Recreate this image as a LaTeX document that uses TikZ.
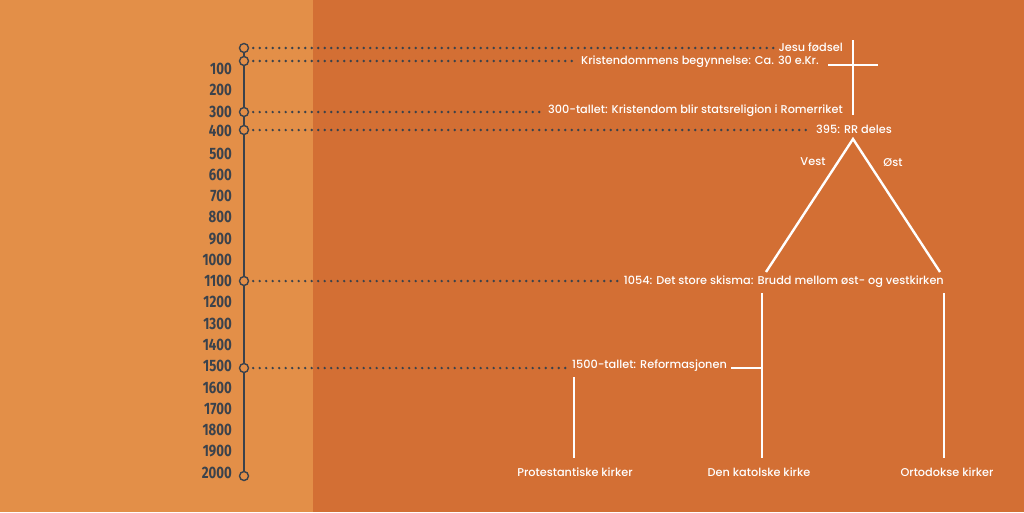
\documentclass[tikz,border=0pt]{standalone}
\usepackage{fontspec}
\setmainfont{Poppins}[UprightFont={* Medium}]
\newfontfamily\yearfont[FakeStretch=0.8]{Fira Sans}
\definecolor{bgleft}{RGB}{227,143,72}
\definecolor{bgright}{RGB}{211,111,52}
\definecolor{axis}{RGB}{58,66,76}
\tikzset{
  year/.style={anchor=east, font=\yearfont\bfseries\fontsize{16.5}{16.5}\selectfont, text=axis, inner sep=0pt},
  lbl/.style={font=\fontsize{11.3}{13}\selectfont, text=white, inner sep=0pt},
  dot/.style={circle, draw=axis, line width=1.4pt, fill=bgleft, minimum size=9pt, inner sep=0pt},
  dotline/.style={axis, line width=2.6pt, dash pattern=on 0pt off 6.5pt, line cap=round},
  wline/.style={white, line width=2.4pt},
}
\begin{document}
\begin{tikzpicture}[x=1pt,y=-1pt]
\useasboundingbox (0,0) rectangle (1024,512);
\fill[bgleft] (0,0) rectangle (313,512);
\fill[bgright] (313,0) rectangle (1024,512);
% axis
\draw[axis, line width=1.8pt] (244,48) -- (244,476);
\foreach \y/\t in {69/100,90/200,112/300,131/400,154/500,175/600,196/700,217/800,239/900,260/1000,281/1100,302/1200,324/1300,345/1400,366/1500,388/1600,409/1700,430/1800,451/1900,473/2000}
  \node[year] (y\t) at (232,\y) {\t};
% circles
\node[dot] (c0) at (244,48) {};
\node[dot] (c30) at (244,61) {};
\node[dot] (c300) at (244,112) {};
\node[dot] (c395) at (244,130) {};
\node[dot] (c1054) at (244,281) {};
\node[dot] (c1500) at (244,368) {};
\node[dot] (c2000) at (244,476) {};
% labels
\node[lbl, anchor=east] (l0) at (843,47) {Jesu fødsel};
\node[lbl, anchor=east] (l30) at (819,62) {Kristendommens begynnelse: Ca. 30 e.Kr.};
\node[lbl, anchor=east] (l300) at (843,111) {300-tallet: Kristendom blir statsreligion i Romerriket};
\node[lbl, anchor=west] (l395) at (816,129) {395: RR deles};
\node[lbl] (vest) at (813,162) {Vest};
\node[lbl] (ost) at (893,163) {Øst};
\node[lbl, anchor=east] (l1054) at (944,282) {1054: Det store skisma: Brudd mellom øst- og vestkirken};
\node[lbl, anchor=west] (l1500) at (572,366) {1500-tallet: Reformasjonen};
\node[lbl] (prot) at (575,472) {Protestantiske kirker};
\node[lbl] (kat) at (759,472) {Den katolske kirke};
\node[lbl] (ort) at (947,472) {Ortodokse kirker};
% dotted lines
\draw[dotline] (c0.east) ++(4,0) -- ([xshift=-5pt]l0.west |- c0);
\draw[dotline] (c30.east) ++(4,0) -- ([xshift=-5pt]l30.west |- c30);
\draw[dotline] (c300.east) ++(4,0) -- ([xshift=-5pt]l300.west |- c300);
\draw[dotline] (c395.east) ++(4,0) -- ([xshift=-5pt]l395.west |- c395);
\draw[dotline] (c1054.east) ++(4,0) -- ([xshift=-5pt]l1054.west |- c1054);
\draw[dotline] (c1500.east) ++(4,0) -- ([xshift=-5pt]l1500.west |- c1500);
% cross
\coordinate (crossT) at (853,40);
\coordinate (crossB) at (853,115);
\coordinate (crossL) at (828,65);
\coordinate (crossR) at (878,65);
\draw[wline] (crossT) -- (crossB);
\draw[wline] (crossL) -- (crossR);
% triangle
\coordinate (apex) at (853,139);
\coordinate (tl) at (766,272);
\coordinate (tr) at (940,272);
\draw[wline, line join=miter] (tl) -- (apex) -- (tr);
% verticals
\coordinate (katT) at (762,293);
\coordinate (katB) at (762,458);
\coordinate (ortT) at (944,293);
\coordinate (ortB) at (944,458);
\coordinate (protT) at (574,377);
\coordinate (protB) at (574,458);
\coordinate (refR) at (762,368);
\draw[wline] (katT) -- (katB);
\draw[wline] (ortT) -- (ortB);
\draw[wline] (protT) -- (protB);
\draw[wline] ([xshift=4pt]l1500.east |- refR) -- (refR);
\end{tikzpicture}
\end{document}
